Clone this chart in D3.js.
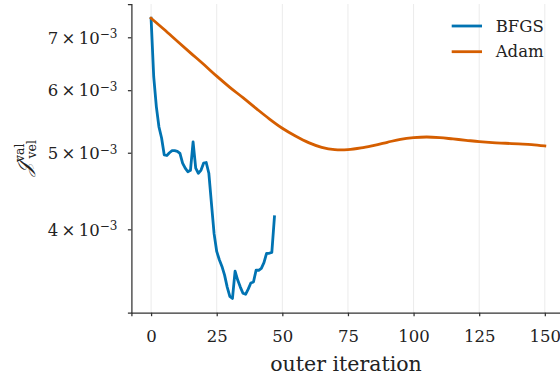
<!DOCTYPE html>
<html><head><meta charset="utf-8">
<script src="https://cdn.jsdelivr.net/npm/d3@7"></script>
<style>
body{margin:0;background:#fff;}
</style></head>
<body>
<svg id="c" width="560" height="377"></svg>
<script>
// ---- data ----
const bfgsIter = d3.range(0, 48);
const bfgsVal = [7.40,6.24,5.72,5.39,5.22,4.97,4.96,5.00,5.03,5.03,5.02,4.99,4.85,4.78,4.73,4.75,5.16,4.78,4.71,4.75,4.85,4.86,4.71,4.31,3.95,3.75,3.66,3.59,3.50,3.38,3.29,3.27,3.54,3.45,3.38,3.32,3.31,3.36,3.42,3.43,3.55,3.55,3.57,3.63,3.73,3.73,3.74,4.15].map(v=>v*1e-3);
const adamIter = [0,5,10,15,20,25,30,35,40,45,50,55,60,65,70,75,80,85,90,95,100,105,110,115,120,125,130,135,140,145,150];
const adamVal = [7.40,7.16,6.92,6.69,6.47,6.25,6.05,5.87,5.69,5.52,5.37,5.25,5.15,5.08,5.045,5.045,5.07,5.11,5.155,5.20,5.225,5.235,5.225,5.205,5.185,5.165,5.15,5.14,5.13,5.12,5.10].map(v=>v*1e-3);
const xTicks = [0,25,50,75,100,125,150];
const yTicks = [4e-3,5e-3,6e-3,7e-3];
const yTickMant = ["4","5","6","7"];
const seriesNames = ["BFGS","Adam"];
const seriesColors = ["#0173B2","#D55E00"];

const FONT = "'DejaVu Serif', serif";
const svg = d3.select("#c");
const x = d3.scaleLinear().domain([-7.5,157.5]).range([131.4,564.5]);
const y = d3.scaleLog().domain([3.137e-3,7.713e-3]).range([312.7,4]);

// grid (vertical only)
svg.append("g").selectAll("line").data(xTicks).join("line")
  .attr("x1",d=>x(d)).attr("x2",d=>x(d)).attr("y1",4).attr("y2",312.7)
  .attr("stroke","#ebebeb").attr("stroke-width",1);

const line = d3.line().x(d=>x(d[0])).y(d=>y(d[1]));
svg.append("path").datum(bfgsIter.map((t,i)=>[t,bfgsVal[i]]))
  .attr("d",line).attr("fill","none").attr("stroke",seriesColors[0])
  .attr("stroke-width",2.8).attr("stroke-linejoin","round").attr("stroke-linecap","square");
svg.append("path").datum(adamIter.map((t,i)=>[t,adamVal[i]]))
  .attr("d",d3.line().x(d=>x(d[0])).y(d=>y(d[1])).curve(d3.curveCatmullRom.alpha(0.5)))
  .attr("fill","none").attr("stroke",seriesColors[1])
  .attr("stroke-width",2.8).attr("stroke-linejoin","round").attr("stroke-linecap","square");

// x axis
const xa = svg.append("g").attr("transform","translate(0,312.7)")
  .call(d3.axisBottom(x).tickValues(xTicks).tickSize(3.5).tickPadding(14.5).tickFormat(d3.format("d")));
xa.attr("font-family",null);
xa.select(".domain").attr("stroke","#333").attr("stroke-width",1.25);
xa.selectAll(".tick line").attr("stroke","#333").attr("stroke-width",1.25);
xa.selectAll("text").style("font-family",FONT).style("font-size","16.5px").attr("fill","#222");

// y axis
const ya = svg.append("g").attr("transform","translate(131.4,0)")
  .call(d3.axisLeft(y).tickValues(yTicks).tickSize(3.5).tickFormat(""));
ya.select(".domain").attr("stroke","#333").attr("stroke-width",1.25);
ya.selectAll(".tick line").attr("stroke","#333").attr("stroke-width",1.25);
ya.selectAll(".tick").each(function(d,i){
  const t = d3.select(this).append("text").attr("x",-14).attr("dy","0.35em")
    .attr("text-anchor","end").style("font-family",FONT).style("font-size","16.5px").attr("fill","#222");
  t.append("tspan").text(yTickMant[i]+"\u2009\u00d7\u200910");
  t.append("tspan").attr("dy","-0.45em").style("font-size","12px").text("\u22123");
});

// axis labels
svg.append("text").attr("x",346).attr("y",371).attr("text-anchor","middle")
  .style("font-family",FONT).style("font-size","20.5px").attr("fill","#222").text("outer iteration");
const yl = svg.append("text").attr("transform","translate(31,158) rotate(-90)")
  .attr("text-anchor","middle").style("font-family",FONT).style("font-size","20px").attr("fill","#222");
yl.append("tspan").attr("font-style","italic").text("\ud835\udca5");
yl.append("tspan").style("font-size","12.5px").attr("dy","-0.55em").text("val");
yl.append("tspan").style("font-size","12.5px").attr("dx","-1.2em").attr("dy","0.95em").text("vel");

// legend
seriesNames.forEach((n,i)=>{
  const yy = 26 + i*25.7;
  svg.append("line").attr("x1",451.7).attr("x2",482).attr("y1",yy).attr("y2",yy)
    .attr("stroke",seriesColors[i]).attr("stroke-width",2.8);
  svg.append("text").attr("x",495.7).attr("y",yy).attr("dy","0.35em")
    .style("font-family",FONT).style("font-size","16.5px").attr("fill","#222").text(n);
});
</script>
</body></html>
